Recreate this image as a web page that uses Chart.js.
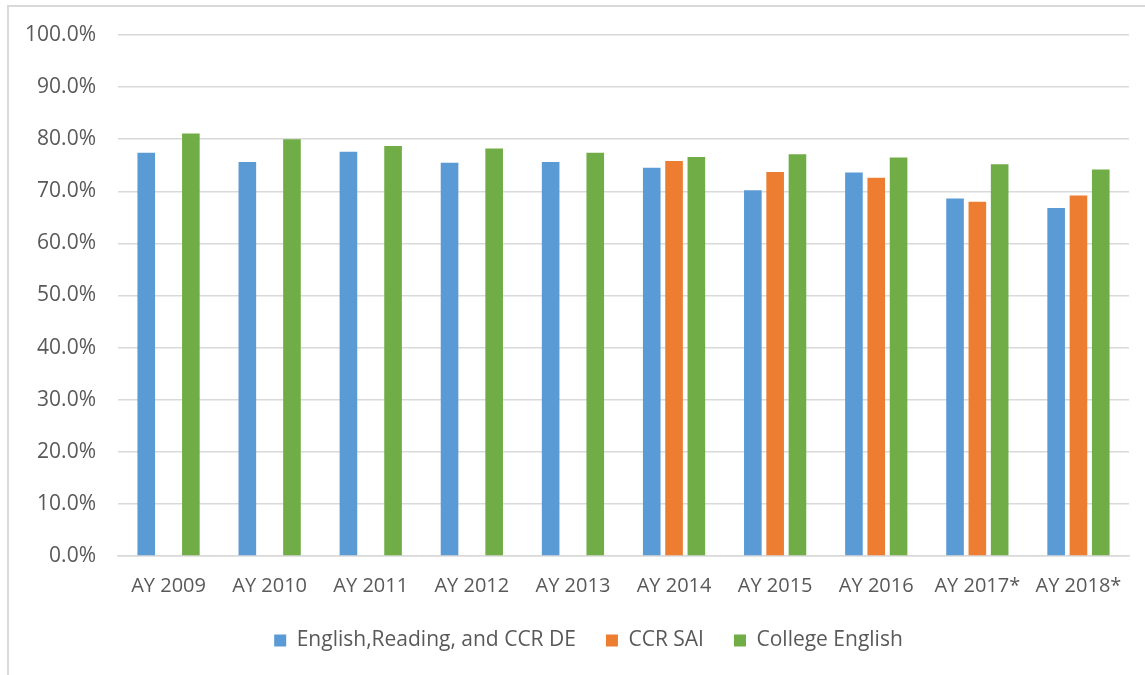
<!DOCTYPE html>
<html>
<head>
<meta charset="utf-8">
<script src="https://cdn.jsdelivr.net/npm/chart.js@4/dist/chart.umd.min.js"></script>
<style>
  html, body { margin: 0; padding: 0; background: #fff; }
  #wrap { position: relative; width: 1145px; height: 675px; overflow: hidden; }
  #frame { position: absolute; left: 7px; top: 5px; width: 1160px; height: 700px;
           border-left: 2px solid #d9d9d9; border-top: 2px solid #d9d9d9; box-sizing: border-box; }
  canvas { position: absolute; left: 0; top: 0; }
</style>
</head>
<body>
<div id="wrap">
  <div id="frame"></div>
  <canvas id="c" width="1145" height="675"></canvas>
</div>
<script>
const categories = ["AY 2009","AY 2010","AY 2011","AY 2012","AY 2013","AY 2014","AY 2015","AY 2016","AY 2017*","AY 2018*"];
const englishReadingCCRDE = [77.4, 75.6, 77.6, 75.5, 75.6, 74.5, 70.2, 73.6, 68.6, 66.8];
const ccrSAI = [null, null, null, null, null, 75.8, 73.7, 72.6, 68.0, 69.2];
const collegeEnglish = [81.1, 80.0, 78.7, 78.2, 77.4, 76.6, 77.1, 76.5, 75.2, 74.2];
const seriesNames = ["English,Reading, and CCR DE", "CCR SAI", "College English"];
const yTicks = [0,10,20,30,40,50,60,70,80,90,100];

const FONT = "'Open Sans', 'Noto Sans', sans-serif";
const TXT = "#595959";

const shiftLegend = {
  id: 'shiftLegend',
  afterLayout(chart) {
    if (chart.legend) { chart.legend.left += 48; }
  }
};

new Chart(document.getElementById('c'), {
  type: 'bar',
  data: {
    labels: categories,
    datasets: [
      { label: seriesNames[0], data: englishReadingCCRDE, backgroundColor: '#5B9BD5' },
      { label: seriesNames[1], data: ccrSAI, backgroundColor: '#ED7D31' },
      { label: seriesNames[2], data: collegeEnglish, backgroundColor: '#70AD47' }
    ]
  },
  plugins: [shiftLegend],
  options: {
    responsive: false,
    animation: false,
    layout: { padding: { left: 0, right: 16, top: 35, bottom: 14 } },
    datasets: { bar: { categoryPercentage: 0.662, barPercentage: 0.79 } },
    plugins: {
      tooltip: { enabled: false },
      legend: {
        position: 'bottom',
        labels: {
          color: TXT,
          font: { family: FONT, size: 21 },
          boxWidth: 12, boxHeight: 12,
          padding: 30
        }
      }
    },
    scales: {
      x: {
        afterFit: s => { s.height = 44; },
        grid: { display: false, drawTicks: false },
        border: { display: true, color: '#d9d9d9', width: 1.5 },
        ticks: { color: TXT, font: { family: FONT, size: 20 }, padding: 18, maxRotation: 0, autoSkip: false }
      },
      y: {
        min: 0, max: 100,
        afterFit: s => { s.width = 118; },
        afterBuildTicks: s => { s.ticks = yTicks.map(v => ({ value: v })); },
        grid: { color: '#d9d9d9', lineWidth: 1.5, drawTicks: false },
        border: { display: false },
        ticks: {
          color: TXT, font: { family: FONT, size: 21 }, padding: 22,
          callback: v => v.toFixed(1) + '%'
        }
      }
    }
  }
});
</script>
</body>
</html>
